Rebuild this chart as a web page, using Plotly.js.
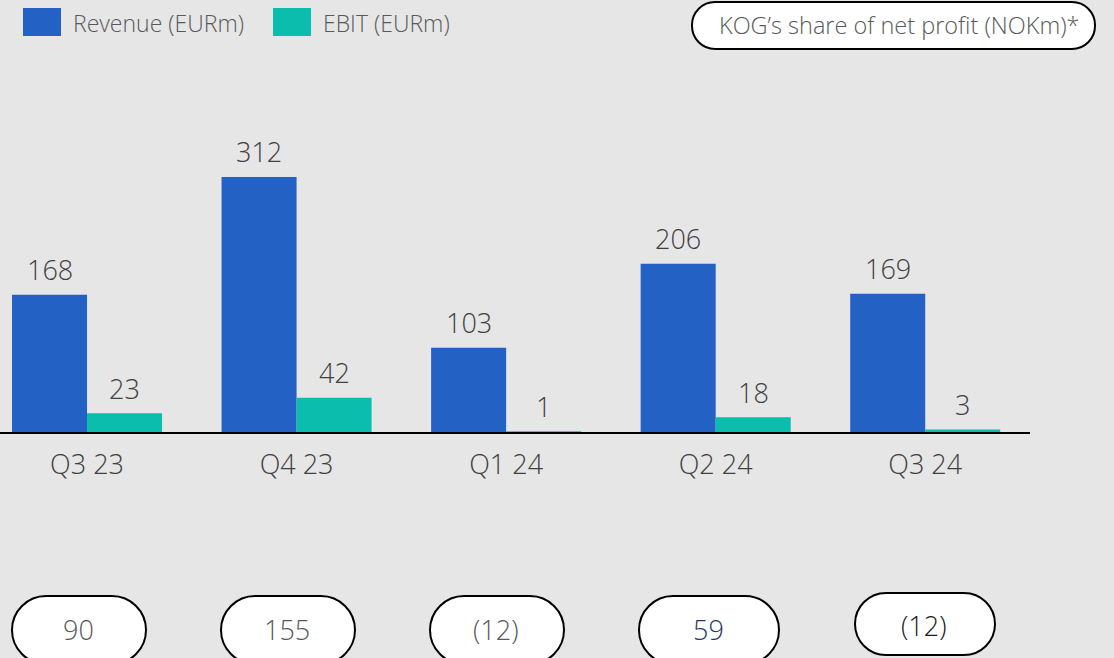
<!DOCTYPE html>
<html>
<head>
<meta charset="utf-8">
<script src="https://cdn.plot.ly/plotly-3.0.1.min.js"></script>
<style>html,body{margin:0;padding:0;background:#e6e6e6;}#chart{width:1114px;height:658px;}</style>
</head>
<body>
<div id="chart"></div>
<script>
// ---- data ----
const categories = ['Q3 23', 'Q4 23', 'Q1 24', 'Q2 24', 'Q3 24'];
const revenue = [168, 312, 103, 206, 169];
const ebit = [23, 42, 1, 18, 3];
const netProfit = [90, 155, -12, 59, -12];
const seriesNames = ['Revenue (EURm)', 'EBIT (EURm)'];
const boxTitle = 'KOG\u2019s share of net profit (NOKm)*';

// ---- styles / layout helpers ----
const colRevenue = '#2461c4';
const colEbit = '#0abdad';
const textCol = '#404040';
const FONT = '"Open Sans", "Noto Sans", sans-serif';
const WT = 350;
const W = 1114, H = 658, ML = 0, MR = 84, MT = 100, MB = 226;
const PW = W - ML - MR, PH = H - MT - MB;
const px = v => (v - ML) / PW;
const py = v => (H - MB - v) / PH;

// pixel boxes for the net profit pills (layout only)
const pillBoxes = [
  {x0: 12, x1: 146, y0: 596, y1: 664},
  {x0: 221, x1: 355, y0: 596, y1: 664},
  {x0: 430, x1: 564, y0: 596, y1: 664},
  {x0: 639, x1: 779, y0: 596, y1: 664},
  {x0: 855, x1: 995, y0: 593, y1: 655}
];
const pillTextColors = ['#595959', '#595959', '#595959', '#1f3864', '#1a1a1a'];

function pillPath(x0, y0, x1, y1, r) {
  r = Math.min(r, (y1 - y0) / 2, (x1 - x0) / 2);
  const k = 0.5523 * r;
  const P = (x, y) => px(x) + ',' + py(y);
  return 'M' + P(x0 + r, y0) +
    ' L' + P(x1 - r, y0) +
    ' C' + P(x1 - r + k, y0) + ' ' + P(x1, y0 + r - k) + ' ' + P(x1, y0 + r) +
    ' L' + P(x1, y1 - r) +
    ' C' + P(x1, y1 - r + k) + ' ' + P(x1 - r + k, y1) + ' ' + P(x1 - r, y1) +
    ' L' + P(x0 + r, y1) +
    ' C' + P(x0 + r - k, y1) + ' ' + P(x0, y1 - r + k) + ' ' + P(x0, y1 - r) +
    ' L' + P(x0, y0 + r) +
    ' C' + P(x0, y0 + r - k) + ' ' + P(x0 + r - k, y0) + ' ' + P(x0 + r, y0) + ' Z';
}
const fmt = v => v < 0 ? '(' + (-v) + ')' : String(v);

const traces = [
  {
    type: 'bar', x: categories, y: revenue, name: seriesNames[0],
    marker: {color: colRevenue}, hoverinfo: 'skip'
  },
  {
    type: 'bar', x: categories, y: ebit, name: seriesNames[1],
    marker: {color: colEbit}, hoverinfo: 'skip'
  }
];

const shapes = [];
const annotations = [];

// value labels above bars
[[revenue, -37.5], [ebit, 37.5]].forEach(([vals, dx]) => {
  vals.forEach((v, i) => {
    annotations.push({xref: 'x', yref: 'y', x: categories[i], y: v, xshift: dx, yshift: 25,
      xanchor: 'center', yanchor: 'middle', text: String(v), showarrow: false,
      font: {family: FONT, size: 27, color: textCol, weight: WT}});
  });
});

// legend
[[23, colRevenue, 71, seriesNames[0]], [273, colEbit, 321, seriesNames[1]]].forEach(([sx, c, tx, t]) => {
  shapes.push({type: 'rect', xref: 'paper', yref: 'paper', x0: px(sx), x1: px(sx + 38), y0: py(36), y1: py(8),
    fillcolor: c, line: {width: 0}});
  annotations.push({xref: 'paper', yref: 'paper', x: px(tx), y: py(23), xanchor: 'left', yanchor: 'middle',
    text: t, showarrow: false, font: {family: FONT, size: 23, color: '#595959', weight: WT}});
});

// top right pill
shapes.push({type: 'path', xref: 'paper', yref: 'paper', path: pillPath(692, 2, 1095, 49, 23),
  fillcolor: '#ffffff', line: {color: '#000000', width: 2}});
annotations.push({xref: 'paper', yref: 'paper', x: px(899), y: py(25), xanchor: 'center', yanchor: 'middle',
  text: boxTitle, showarrow: false, font: {family: FONT, size: 23.5, color: '#595959', weight: WT}});

// bottom pills
netProfit.forEach((v, i) => {
  const b = pillBoxes[i];
  shapes.push({type: 'path', xref: 'paper', yref: 'paper', path: pillPath(b.x0, b.y0, b.x1, b.y1, 34),
    fillcolor: '#ffffff', line: {color: '#000000', width: 2}});
  const cy = i === 4 ? 625 : 629;
  annotations.push({xref: 'paper', yref: 'paper', x: px((b.x0 + b.x1) / 2 - 1), y: py(cy), xanchor: 'center', yanchor: 'middle',
    text: fmt(v), showarrow: false, font: {family: FONT, size: 27, color: pillTextColors[i], weight: WT}});
});

const layout = {
  width: W, height: H,
  margin: {l: ML, r: MR, t: MT, b: MB, pad: 0},
  paper_bgcolor: '#e6e6e6', plot_bgcolor: '#e6e6e6',
  showlegend: false,
  barmode: 'group', bargap: 0.284, bargroupgap: 0,
  xaxis: {
    type: 'category', range: [-0.4153, 4.5],
    showline: true, linecolor: '#000000', linewidth: 2,
    showgrid: false, zeroline: false, ticks: '',
    ticklabelstandoff: 8,
    tickfont: {family: FONT, size: 27, color: textCol, weight: WT},
    fixedrange: true
  },
  yaxis: {visible: false, range: [0, 406.2], showgrid: false, zeroline: false, fixedrange: true},
  shapes: shapes,
  annotations: annotations,
  font: {family: FONT}
};

Plotly.newPlot('chart', traces, layout, {displayModeBar: false, staticPlot: true});
</script>
</body>
</html>
